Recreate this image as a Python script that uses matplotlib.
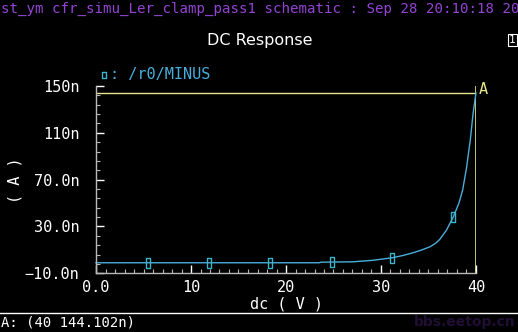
import matplotlib
matplotlib.use("Agg")
import matplotlib.pyplot as plt
from matplotlib.lines import Line2D
import numpy as np

# curve /r0/MINUS (V, nA)
dc_volts = [0.0, 5.0, 10.0, 15.0, 20.0, 23.5, 23.7, 27.0, 29.0, 30.0, 31.2,
            32.3, 33.4, 34.3, 35.2, 35.8, 36.2, 36.9, 37.6, 38.2, 38.6,
            39.0, 39.4, 39.7, 40.0]
minus_na = [-1.0, -1.0, -1.0, -1.0, -1.0, -1.0, -0.5, -0.2, 1.0, 2.0, 3.3,
            5.2, 7.6, 10.0, 12.8, 16.0, 19.1, 27.0, 37.9, 49.9, 61.3,
            80.0, 104.0, 127.0, 144.102]

# little rectangle markers sitting on the trace
mark_volts = [5.5, 11.9, 18.3, 24.8, 31.2, 37.6]
mark_na = [-1.0, -1.0, -1.0, -0.4, 3.3, 37.9]

# marker A
cursor_v = 40.0
cursor_na = 144.102

yticks = [-10, 30, 70, 110, 150]
ytick_labels = ["\u221210.0n", "30.0n", "70.0n", "110n", "150n"]
xticks = [0, 10, 20, 30, 40]
xtick_labels = ["0.0", "10", "20", "30", "40"]

W, H = 518, 332
mono = "DejaVu Sans Mono"
trace_col = "#4aaedc"
mark_col = "#3cb4cc"
axis_col = "#b8b8b8"
cursor_col = "#e6e68c"

fig = plt.figure(figsize=(W / 100, H / 100), dpi=100, facecolor="black")

# axes box in pixels
left, right, top, bottom = 96, 476, 86, 273.3
ax = fig.add_axes([left / W, (H - bottom) / H, (right - left) / W, (bottom - top) / H])
ax.set_facecolor("black")
ax.set_xlim(0, 40)
ax.set_ylim(-10, 150)

for s in ["top", "right"]:
    ax.spines[s].set_visible(False)
for s in ["left", "bottom"]:
    ax.spines[s].set_color(axis_col)
    ax.spines[s].set_linewidth(1.0)

ax.set_xticks(xticks)
ax.set_xticklabels(xtick_labels)
ax.set_yticks(yticks)
ax.set_yticklabels(ytick_labels)
ax.set_xticks(np.arange(0, 41, 1), minor=True)
ax.set_yticks(np.arange(-10, 151, 8), minor=True)
ax.tick_params(which="major", direction="in", length=6, width=1, color="white",
               labelcolor="white", labelsize=11)
ax.tick_params(which="minor", direction="in", length=3, width=0.8, color=axis_col)
ax.tick_params(axis="y", which="major", pad=12)
ax.tick_params(axis="x", which="major", pad=5)
for lab in ax.get_xticklabels() + ax.get_yticklabels():
    lab.set_family(mono)

ax.set_xlabel("dc ( V )", color="white", fontsize=11, family=mono, labelpad=1)
fig.text(15 / W, 1 - 180 / H, "( A )", color="white", fontsize=11, family=mono,
         rotation=90, ha="center", va="center")

# marker A crosshair
ax.axhline(cursor_na, color=cursor_col, lw=1.0)
ax.axvline(cursor_v, color=cursor_col, lw=1.2)

# the trace
ax.plot(dc_volts, minus_na, color=trace_col, lw=1.0, clip_on=False)
rect = [(-0.5, -1), (0.5, -1), (0.5, 1), (-0.5, 1), (-0.5, -1)]
ax.plot(mark_volts, mark_na, ls="none", marker=rect, markersize=7,
        markerfacecolor="none", markeredgecolor=mark_col, markeredgewidth=1.0)

# legend
fig.add_artist(Line2D([104 / W], [1 - 75 / H], marker=rect, markersize=5,
                      markerfacecolor="none", markeredgecolor=mark_col, ls="none"))
fig.text(110 / W, 1 - 75 / H, ": /r0/MINUS", color=trace_col, fontsize=11,
         family=mono, ha="left", va="center")

fig.text(479 / W, 1 - 89 / H, "A", color=cursor_col, fontsize=11, family=mono,
         ha="left", va="center")

# header and title
fig.text(1 / W, 1 - 9 / H, "st_ym cfr_simu_Ler_clamp_pass1 schematic : Sep 28 20:10:18 20",
         color="#9444d4", fontsize=10.2, family=mono, ha="left", va="center")
fig.text(260 / W, 1 - 40 / H, "DC Response", color="white", fontsize=11.5,
         family="DejaVu Sans", ha="center", va="center")
fig.text(509 / W, 1 - 40 / H, "1", color="white", fontsize=8, family=mono,
         ha="left", va="center",
         bbox=dict(facecolor="none", edgecolor="white", pad=0.8, lw=0.8))

# status line
fig.add_artist(Line2D([0, 1], [1 - 313 / H, 1 - 313 / H], color="white", lw=1.0))
fig.text(1 / W, 1 - 322 / H, "A: (40 144.102n)", color="white", fontsize=10,
         family=mono, ha="left", va="center")
fig.text(516 / W, 1 - 322 / H, "bbs.eetop.cn", color="#200e34", fontsize=10,
         family="DejaVu Sans", weight="bold", ha="right", va="center")

fig.savefig("out.png", dpi=100, facecolor="black")
